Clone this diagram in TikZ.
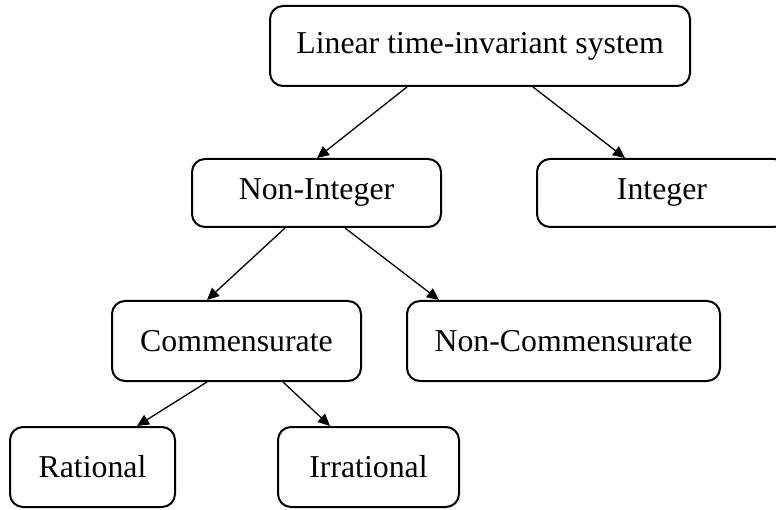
\documentclass[tikz,border=0pt]{standalone}
\usepackage{fontspec}
\setmainfont{Liberation Serif}
\usetikzlibrary{arrows.meta}
\begin{document}
\begin{tikzpicture}[x=1pt,y=-1pt,
  box/.style={draw=black, line width=2pt, rounded corners=13pt, inner sep=0pt,
    align=center, font=\fontsize{31.8}{38}\selectfont},
  link/.style={draw=black, line width=1.3pt, -{Triangle[length=12pt,width=11pt]}}]
\useasboundingbox (0,0) rectangle (776,510);
% hierarchy boxes
\node[box, minimum width=420pt, minimum height=80pt] (lti) at (480,46) {Linear time-invariant system};
\node[box, minimum width=249pt, minimum height=68pt] (nonint) at (316.5,193) {Non-Integer};
\node[box, minimum width=250pt, minimum height=68pt] (int) at (662,193) {Integer};
\node[box, minimum width=249pt, minimum height=80pt] (comm) at (236.5,341) {Commensurate};
\node[box, minimum width=313pt, minimum height=80pt] (noncomm) at (563.5,341) {Non-Commensurate};
\node[box, minimum width=165pt, minimum height=80pt] (rat) at (92.5,467) {Rational};
\node[box, minimum width=181pt, minimum height=80pt] (irr) at (368.5,467) {Irrational};
% connectors
\draw[link] ([xshift=-73pt]lti.south) -- ([xshift=0.5pt]nonint.north);
\draw[link] ([xshift=53pt]lti.south) -- ([xshift=-37pt]int.north);
\draw[link] ([xshift=-31.5pt]nonint.south) -- ([xshift=-29.5pt]comm.north);
\draw[link] ([xshift=28.5pt]nonint.south) -- ([xshift=-124.5pt]noncomm.north);
\draw[link] ([xshift=-29.5pt]comm.south) -- ([xshift=44.5pt]rat.north);
\draw[link] ([xshift=46.5pt]comm.south) -- ([xshift=-38.5pt]irr.north);
\end{tikzpicture}
\end{document}
